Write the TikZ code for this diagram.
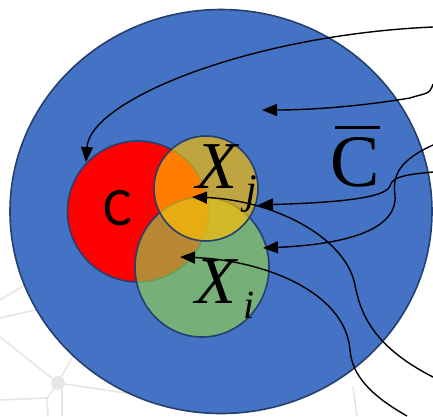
\documentclass[tikz,border=0pt]{standalone}
\usepackage{fontspec}
\setmainfont{Liberation Serif}
\newfontfamily\calib{Carlito}
\usetikzlibrary{arrows.meta,shapes.geometric}
\definecolor{bigblue}{HTML}{4472C4}
\definecolor{edgeblue}{HTML}{253F6E}
\definecolor{cred}{HTML}{FF0000}
\definecolor{xjgold}{HTML}{FFC000}
\definecolor{xigreen}{HTML}{92D050}
\definecolor{wmgray}{HTML}{E6E6E6}
\begin{document}
\begin{tikzpicture}[x=1pt,y=-1pt,
  ring/.style={ellipse, draw=edgeblue, line width=1.6pt, inner sep=0pt, outer sep=0pt},
  wm/.style={draw=wmgray, line width=1.6pt},
  pointer/.style={draw=black, line width=1.4pt, -{Triangle[length=15pt,width=12pt]}},
  lbl/.style={inner sep=0pt, outer sep=0pt}]
\useasboundingbox (0,0) rectangle (433,416);
% faint background network
\draw[wm] (0,300) -- (28,283);
\draw[wm] (0,318) -- (35,310) -- (80,290);
\draw[wm] (0,337) -- (58,383);
\draw[wm] (58,383) -- (75,352);
\draw[wm] (58,383) -- (125,393);
\draw[wm] (0,400) -- (47,398) -- (58,383);
\draw[wm] (47,398) -- (48,416);
\draw[wm] (62,387) -- (62,416);
\draw[wm] (353,387) -- (357,416);
\fill[wmgray] (58,383) circle (7);
% sets
\node[ring, fill=bigblue, minimum width=422pt, minimum height=404pt] (U) at (221,211.5) {};
\node[ring, fill=cred, minimum width=141pt, minimum height=141pt] (C) at (138,211.5) {};
\node[ring, fill=xigreen, fill opacity=0.65, minimum width=134pt, minimum height=140pt] (Xi) at (202,267) {};
\node[ring, fill=xjgold, fill opacity=0.66, minimum width=104pt, minimum height=105pt] (Xj) at (206,188.5) {};
% labels
\node[lbl, anchor=base] (Clab) at (118,225) {\calib\fontsize{54}{54}\selectfont C};
\node[lbl, anchor=base west] (Xjlab) at (196.4,188) {\fontsize{67}{67}\selectfont\itshape X\hspace{8pt}\raisebox{-15pt}{\fontsize{42}{42}\selectfont j}};
\node[lbl, anchor=base west] (Xilab) at (195.4,303) {\fontsize{67}{67}\selectfont\itshape X\hspace{7pt}\raisebox{-15pt}{\fontsize{40}{40}\selectfont i}};
\node[lbl, anchor=base west] (Cbar) at (330,186) {\fontsize{74}{74}\selectfont\makebox[0pt][l]{\hspace{5pt}\raisebox{57pt}{\rule{45pt}{2.7pt}}}C};
% connector ends
\coordinate (s1) at (433,27);
\coordinate (s2) at (433,84);
\coordinate (s3) at (433,145);
\coordinate (s4) at (433,172);
\coordinate (s5) at (433,377);
\coordinate (s6) at (407,416);
\coordinate (t1) at (86,162);
\coordinate (t2) at (262,110);
\coordinate (t3) at (263,248);
\coordinate (t4) at (258,205);
\coordinate (t5) at (192,197);
\coordinate (t6) at (180,257);
% connectors
\draw[pointer] (s1) .. controls (250,35) and (90,100) .. (t1);
\draw[pointer] (s2) .. controls (430,95) and (425,93) .. (410,98) .. controls (350,108) and (300,110) .. (t2);
\draw[pointer] (s3) .. controls (400,160) and (392,175) .. (395,195) .. controls (398,235) and (330,245) .. (t3);
\draw[pointer] (s4) .. controls (400,175) and (392,178) .. (390,186) .. controls (385,200) and (320,203) .. (t4);
\draw[pointer] (s5) .. controls (370,345) and (360,310) .. (355,285) .. controls (345,235) and (270,200) .. (t5);
\draw[pointer] (s6) .. controls (370,395) and (352,375) .. (350,350) .. controls (345,290) and (260,260) .. (t6);
\end{tikzpicture}
\end{document}
